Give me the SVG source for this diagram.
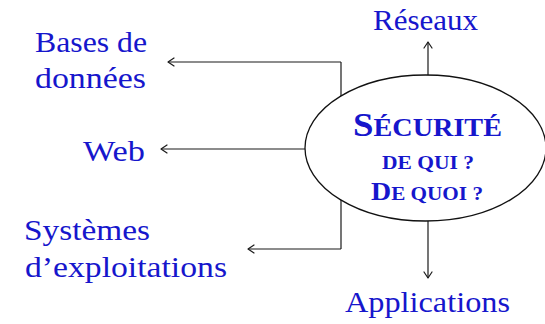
<svg xmlns="http://www.w3.org/2000/svg" width="545" height="324" viewBox="0 0 545 324">
  <style>
    .lbl { font-family: "Liberation Serif", "Times New Roman", serif; font-size: 30px; fill: #1616cc; }
    .ctr { font-family: "Liberation Serif", "Times New Roman", serif; font-weight: bold; fill: #1616cc; }
    .wire { fill: none; stroke: #1a1a1a; stroke-width: 1.2; }
    .tip { fill: none; stroke: #1a1a1a; stroke-width: 1.2; stroke-linecap: round; stroke-linejoin: round; }
  </style>
  <defs>
    <marker id="arrow" markerUnits="userSpaceOnUse" markerWidth="12" markerHeight="12" viewBox="-8 -6 10 12" refX="0" refY="0" orient="auto">
      <path class="tip" d="M-6,-4 L0,0 L-6,4"/>
    </marker>
  </defs>
  <rect width="545" height="324" fill="#fff"/>

  <!-- connectors (drawn first so the ellipse covers the spine) -->
  <g id="connectors">
    <path class="wire" d="M341,62 V249"/>
    <path class="wire" d="M341,62 H168" marker-end="url(#arrow)"/>
    <path class="wire" d="M305,149 H161" marker-end="url(#arrow)"/>
    <path class="wire" d="M341,249 H248" marker-end="url(#arrow)"/>
    <path class="wire" d="M428,75 V42" marker-end="url(#arrow)"/>
    <path class="wire" d="M428,221 V278" marker-end="url(#arrow)"/>
  </g>

  <!-- central node -->
  <g id="securite">
    <ellipse cx="425.5" cy="148" rx="120.5" ry="73" fill="#fff" stroke="#111" stroke-width="1.3"/>
    <text class="ctr" x="353" y="136" textLength="149" lengthAdjust="spacingAndGlyphs"><tspan font-size="34">S</tspan><tspan font-size="26">ÉCURITÉ</tspan></text>
    <text class="ctr" x="382" y="168.5" font-size="19" textLength="92" lengthAdjust="spacingAndGlyphs">DE QUI ?</text>
    <text class="ctr" x="371" y="199.5" textLength="112" lengthAdjust="spacingAndGlyphs"><tspan font-size="25">D</tspan><tspan font-size="19">E QUOI ?</tspan></text>
  </g>

  <g id="reseaux">
    <text class="lbl" x="373" y="30" textLength="105" lengthAdjust="spacingAndGlyphs">Réseaux</text>
  </g>
  <g id="applications">
    <text class="lbl" x="345" y="312" textLength="165" lengthAdjust="spacingAndGlyphs">Applications</text>
  </g>
  <g id="bases">
    <text class="lbl" x="35" y="52" textLength="112" lengthAdjust="spacingAndGlyphs">Bases de</text>
    <text class="lbl" x="35" y="88" textLength="111" lengthAdjust="spacingAndGlyphs">données</text>
  </g>
  <g id="web">
    <text class="lbl" x="83" y="160.5" textLength="62" lengthAdjust="spacingAndGlyphs">Web</text>
  </g>
  <g id="systemes">
    <text class="lbl" x="24" y="240" textLength="126" lengthAdjust="spacingAndGlyphs">Systèmes</text>
    <text class="lbl" x="25" y="276.5" textLength="202" lengthAdjust="spacingAndGlyphs">d’exploitations</text>
  </g>
</svg>
